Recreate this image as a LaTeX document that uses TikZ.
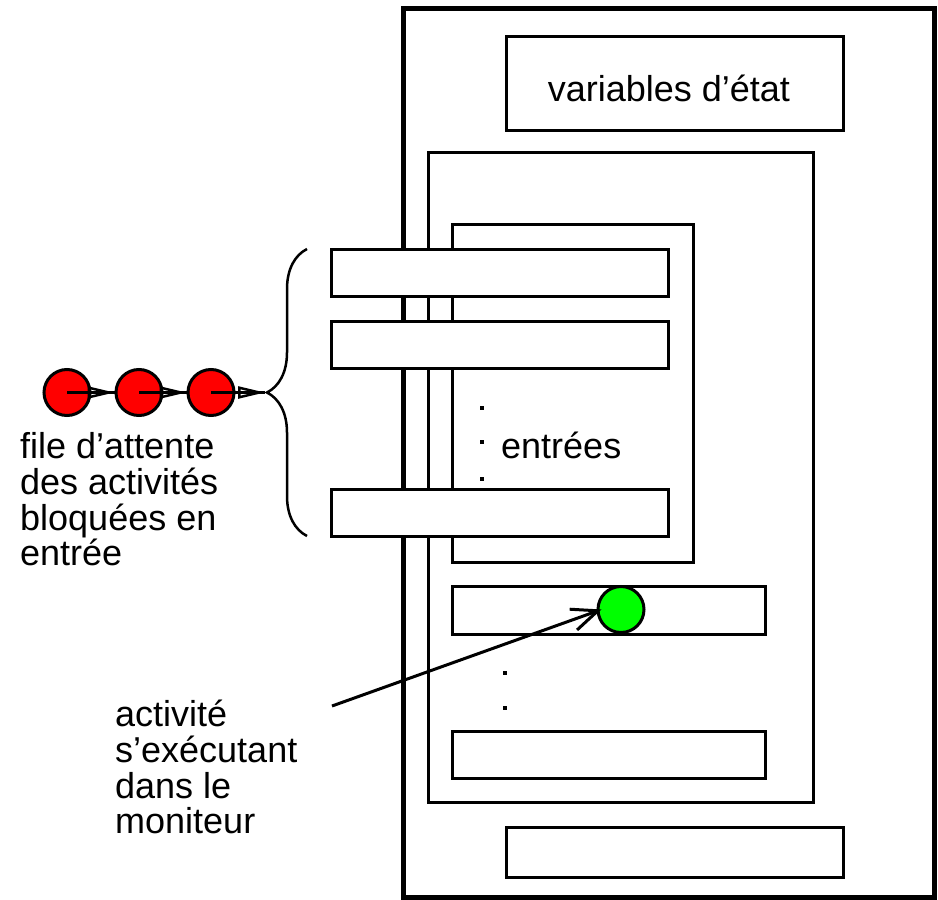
\documentclass[tikz,border=0pt]{standalone}
\usepackage{fontspec}
\setmainfont{Liberation Sans}
\usetikzlibrary{arrows.meta,decorations.pathreplacing}
\begin{document}
\begin{tikzpicture}[x=1pt,y=-1pt,
  thickframe/.style={draw,line width=5pt,inner sep=0pt,outer sep=0pt},
  box/.style={draw,fill=white,line width=3pt,inner sep=0pt,outer sep=0pt},
  lbl/.style={font=\fontsize{36}{35.7}\selectfont,inner sep=0pt,align=left},
  ball/.style={circle,draw,line width=3pt,minimum size=46pt,inner sep=0pt},
  dotmark/.style={fill=black,inner sep=0pt,minimum size=4pt},
  shaft/.style={line width=3pt},
  queuehead/.style={line width=3pt,-{Triangle[open,fill=none,length=27pt,width=12pt,line width=2.5pt]}},
  pointer/.style={line width=3pt,-{Straight Barb[length=26pt,width=22pt]}}
]
\useasboundingbox (0,0) rectangle (938,900);

% outer monitor frame
\node[thickframe,minimum width=531pt,minimum height=889pt] (outer) at (669,452.5) {};
% state variables
\node[box,minimum width=337pt,minimum height=94pt] (vars) at (674.5,83) {};
\node[lbl,anchor=base] (varstxt) at (669,101) {variables d'état};
% middle frame
\node[box,minimum width=385pt,minimum height=650pt] (mid) at (620.5,477) {};
% entries frame
\node[box,minimum width=241pt,minimum height=338pt] (entries) at (572.5,393) {};
% entry bars
\node[box,minimum width=337pt,minimum height=47pt] (e1) at (499.5,272.5) {};
\node[box,minimum width=337pt,minimum height=47pt] (e2) at (499.5,344.5) {};
\node[box,minimum width=337pt,minimum height=47pt] (e3) at (499.5,513) {};
% dots and label in entries
\node[dotmark] (d1) at (482,408) {};
\node[dotmark] (d2) at (482,442) {};
\node[dotmark] (d3) at (482,479) {};
\node[lbl,anchor=base west] (entxt) at (501,458) {entrées};
% condition boxes
\node[box,minimum width=313pt,minimum height=48pt] (c1) at (608.5,610) {};
\node[box,minimum width=313pt,minimum height=47pt] (c2) at (608.5,754.5) {};
\node[dotmark] (d4) at (505,673) {};
\node[dotmark] (d5) at (505,708) {};
% bottom box
\node[box,minimum width=337pt,minimum height=50pt] (bottom) at (674.5,852) {};

% active process
\node[ball,fill={rgb,255:red,0;green,255;blue,0}] (g) at (621,609.5) {};
\coordinate (act) at (332,706);
\draw[pointer] (act) -- ([xshift=5pt]g.west);
\node[lbl,anchor=north west] (acttxt) at (115,700) {activité\\s'exécutant\\dans le\\moniteur};

% queue
\node[ball,fill=red] (q1) at (67,392.5) {};
\node[ball,fill=red] (q2) at (139,392.5) {};
\node[ball,fill=red] (q3) at (211,392.5) {};
\coordinate (bt) at (265,392.5);
\draw[shaft] (q1.center) -- (q2.west) (q1.center) edge[queuehead] (q2.west);
\draw[shaft] (q2.center) -- (q3.west) (q2.center) edge[queuehead] (q3.west);
\draw[shaft] (q3.center) -- (bt) (q3.center) edge[queuehead] (bt);
\draw[line width=2.5pt,decorate,decoration={brace,amplitude=40pt}] (307,536) -- (307,249);
\node[lbl,anchor=north west] (qtxt) at (20,432.5) {file d'attente\\des activités\\bloquées en\\entrée};
\end{tikzpicture}
\end{document}
